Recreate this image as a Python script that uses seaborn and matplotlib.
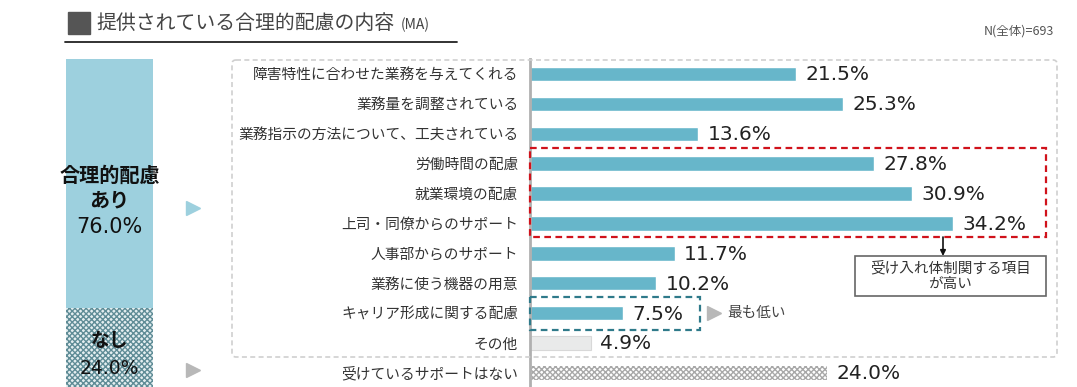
import matplotlib
matplotlib.use('Agg')
import matplotlib.pyplot as plt
import seaborn as sns
import pandas as pd
from matplotlib.patches import FancyBboxPatch, Rectangle

# data
items = ['障害特性に合わせた業務を与えてくれる', '業務量を調整されている',
         '業務指示の方法について、工夫されている', '労働時間の配慮', '就業環境の配慮',
         '上司・同僚からのサポート', '人事部からのサポート', '業務に使う機器の用意',
         'キャリア形成に関する配慮', 'その他', '受けているサポートはない']
values = [21.5, 25.3, 13.6, 27.8, 30.9, 34.2, 11.7, 10.2, 7.5, 4.9, 24.0]
share_labels = ['合理的配慮\nあり', 'なし']
share_values = [76.0, 24.0]

BLUE = '#67B6CA'
LIGHT_BLUE = '#9DD0DE'
OTHER = '#E9EAEA'
FONT = ['Noto Sans CJK JP', 'DejaVu Sans']
NUM_FONT = ['DejaVu Sans']

sns.set_theme(style='white')
plt.rcParams['font.family'] = FONT

W, H = 1077, 387
fig = plt.figure(figsize=(W / 100, H / 100), dpi=100)

def fx(px):
    return px / W

def fy(py):
    return 1 - py / H

# main bar chart
ax = fig.add_axes([fx(530), 0, fx(1057) - fx(530), fy(59)])
df = pd.DataFrame({'item': items, 'value': values})
colors = [BLUE] * 9 + [OTHER, '#FFFFFF']
sns.barplot(data=df, x='value', y='item', hue='item', palette=colors,
            legend=False, ax=ax, width=0.48, orient='h', saturation=1)
px_per_pct = 12.37
ax.set_xlim(0, (1057 - 530) / px_per_pct)
ax.set_ylim(10.47, -0.5)

patches = ax.patches[:len(items)]
patches[9].set_edgecolor('#D8D8D8')
patches[9].set_linewidth(0.8)
last = patches[10]
last.set_hatch('xxxxxx')
last.set_edgecolor('#A8A8A8')
last.set_linewidth(0)

for i, v in enumerate(values):
    ax.text(v + 0.75, i + 0.03, f'{v:.1f}%', va='center', ha='left', fontsize=14.5,
            color='#222222', family=NUM_FONT)

ax.set_xlabel('')
ax.set_ylabel('')
ax.set_xticks([])
ax.tick_params(axis='y', length=0, pad=8.5, labelsize=10.6, labelcolor='#333333')
for s in ['top', 'right', 'bottom']:
    ax.spines[s].set_visible(False)
ax.spines['left'].set_color('#B0B0B0')
ax.spines['left'].set_linewidth(2)
ax.patch.set_alpha(0)

# red dashed highlight (rows 3-5) and teal dashed highlight (row 8)
ax.add_patch(Rectangle((0, 2.47), (1046 - 530) / px_per_pct, 2.98, fill=False,
                       ec='#D0121B', lw=1.6, ls=(0, (3, 2)), clip_on=False, zorder=5))
ax.add_patch(Rectangle((0, 7.47), (700 - 530) / px_per_pct, 1.1, fill=False,
                       ec='#2F7A8A', lw=1.6, ls=(0, (3, 2)), clip_on=False, zorder=5))

# left stacked share bar
ax2 = fig.add_axes([fx(66), 0, fx(153) - fx(66), fy(59)])
ax2.bar(0, share_values[1], width=1, color='#E4EEF0', hatch='xxxxxx',
        edgecolor='#5F8C96', linewidth=0)
ax2.bar(0, share_values[0], bottom=share_values[1], width=1, color=LIGHT_BLUE,
        edgecolor='none')
ax2.set_xlim(-0.5, 0.5)
ax2.set_ylim(0, 100)
ax2.axis('off')
top_mid = share_values[1] + share_values[0] / 2
ax2.text(0, top_mid - 8.2, share_labels[0], ha='center', va='bottom',
         fontsize=14.5, color='#111111', linespacing=1.2, fontweight='bold',
         family=FONT)
ax2.text(0, top_mid - 10.2, f'{share_values[0]:.1f}%', ha='center', va='top',
         fontsize=15, color='#111111', family=NUM_FONT)
ax2.text(0, share_values[1] / 2 + 2.2, share_labels[1], ha='center', va='center',
         fontsize=13.5, color='#111111', fontweight='bold', family=FONT)
ax2.text(0, share_values[1] / 2 - 6.3, f'{share_values[1]:.1f}%', ha='center',
         va='center', fontsize=13.5, color='#111111', family=NUM_FONT)

# overlay in pixel coordinates
ov = fig.add_axes([0, 0, 1, 1], zorder=10)
ov.set_xlim(0, W)
ov.set_ylim(H, 0)
ov.axis('off')

ov.add_patch(FancyBboxPatch((232, 60), 825, 297, boxstyle='round,pad=0,rounding_size=4',
                            fill=False, ec='#CFCFCF', lw=1.2, ls=(0, (3, 2))))

# title
ov.add_patch(Rectangle((68, 12), 22, 22, color='#555555'))
ov.text(96, 23, '提供されている合理的配慮の内容', fontsize=14.3, va='center',
        color='#444444', family=FONT)
ov.text(401, 25, '(MA)', fontsize=10, va='center', color='#444444', family=FONT)
ov.plot([65, 457], [42, 42], color='#222222', lw=1.3)
ov.text(1054, 31, 'N(全体)=693', fontsize=9, ha='right', va='center',
        color='#555555', family=FONT)

# pointers
ov.plot([193], [208], marker='>', ms=10, color=LIGHT_BLUE, ls='none')
ov.plot([193], [370], marker='>', ms=10, color='#B8B8B8', ls='none')
ov.plot([714], [313], marker='>', ms=10, color='#B8B8B8', ls='none')
ov.text(727, 313, '最も低い', fontsize=10.5, va='center', color='#444444', family=FONT)

# callout
ov.annotate('', xy=(943, 256), xytext=(943, 237),
            arrowprops=dict(arrowstyle='-|>', color='#111111', lw=1.2,
                            mutation_scale=8, shrinkA=0, shrinkB=0))
ov.add_patch(Rectangle((855, 256), 191, 40, fill=True, fc='white',
                       ec='#666666', lw=1.2))
ov.text(950.5, 276, '受け入れ体制関する項目\nが高い', fontsize=10.5, ha='center',
        va='center', color='#333333', linespacing=1.1, family=FONT)

fig.savefig('out.png', dpi=100)
